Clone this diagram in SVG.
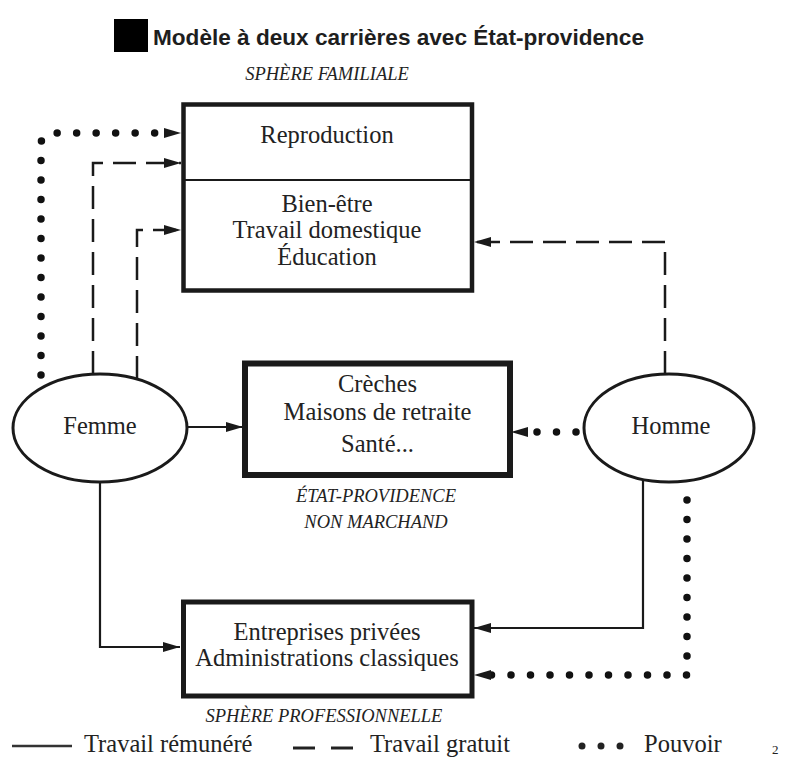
<svg xmlns="http://www.w3.org/2000/svg" width="789" height="760" viewBox="0 0 789 760">
<style>
.t{font-family:"Liberation Serif","Times New Roman",serif;font-size:24.5px;fill:#222;text-anchor:middle}
.lab{font-family:"Liberation Serif","Times New Roman",serif;font-size:18.5px;font-style:italic;fill:#222;text-anchor:middle}
.leg{font-family:"Liberation Serif","Times New Roman",serif;font-size:24.5px;fill:#222}
.box{fill:#fff;stroke:#1a1a1a}
.ell{fill:#fff;stroke:#1a1a1a;stroke-width:3}
.solid{fill:none;stroke:#1a1a1a;stroke-width:2.2}
.dash{fill:none;stroke:#1a1a1a;stroke-width:2.5;stroke-dasharray:23 10}
.dot{fill:none;stroke:#111;stroke-width:7.5;stroke-linecap:round;stroke-dasharray:0 19.5}
</style>
<defs>
<marker id="ah" markerUnits="userSpaceOnUse" markerWidth="18" markerHeight="12" refX="17" refY="6" orient="auto">
<path d="M0,1 L17,6 L0,11 Z" fill="#1a1a1a"/>
</marker>
</defs>
<rect width="789" height="760" fill="#fff"/>
<g id="title">
<rect x="114" y="19" width="34" height="33" fill="#000"/>
<text x="153" y="45" style="font-family:'Liberation Sans',Arial,sans-serif;font-size:22.6px;font-weight:bold;fill:#1e1e1e">Modèle à deux carrières avec État-providence</text>
</g>
<g id="labels">
<text class="lab" x="327" y="80">SPHÈRE FAMILIALE</text>
<text class="lab" x="376" y="502">ÉTAT-PROVIDENCE</text>
<text class="lab" x="376" y="528">NON MARCHAND</text>
<text class="lab" x="324" y="722">SPHÈRE PROFESSIONNELLE</text>
</g>
<g id="connectors">
<path class="dot" d="M41,375 L41,145 Q41,133 53,133 L165,133"/>
<path d="M160,133 L181,133" fill="none" stroke="none" marker-end="url(#ah)"/>
<path class="dash" d="M93,374 V163 H181" marker-end="url(#ah)"/>
<path class="dash" d="M137,379 V230 H181" marker-end="url(#ah)"/>
<path class="dash" d="M665,374 V242 H474" marker-end="url(#ah)"/>
<path class="solid" d="M187,427 H243" marker-end="url(#ah)"/>
<path class="dot" d="M576,432 H520"/>
<path d="M520,432 H511" fill="none" stroke="none" marker-end="url(#ah)"/>
<path class="solid" d="M100,482 V647 H180" marker-end="url(#ah)"/>
<path class="solid" d="M643,479 V628 H474" marker-end="url(#ah)"/>
<path class="dot" d="M687,500 V675 H485"/>
<path d="M485,675 H474" fill="none" stroke="none" marker-end="url(#ah)"/>
</g>
<g id="sphere-familiale">
<rect class="box" x="183.5" y="104.5" width="288.5" height="186" stroke-width="4.5"/>
<line x1="183.5" y1="180" x2="472" y2="180" stroke="#1a1a1a" stroke-width="2"/>
<text class="t" x="327" y="143">Reproduction</text>
<text class="t" x="327" y="212">Bien-être</text>
<text class="t" x="327" y="238">Travail domestique</text>
<text class="t" x="327" y="265">Éducation</text>
</g>
<g id="etat-providence">
<rect class="box" x="245" y="363.5" width="265" height="111.5" stroke-width="6"/>
<text class="t" x="377.5" y="392">Crèches</text>
<text class="t" x="377.5" y="420">Maisons de retraite</text>
<text class="t" x="377.5" y="452">Santé...</text>
</g>
<g id="sphere-professionnelle">
<rect class="box" x="183.5" y="602" width="288.5" height="94" stroke-width="5"/>
<text class="t" x="327" y="640">Entreprises privées</text>
<text class="t" x="327" y="666">Administrations classiques</text>
</g>
<g id="femme">
<ellipse class="ell" cx="100" cy="428" rx="87" ry="54"/>
<text class="t" x="100" y="434">Femme</text>
</g>
<g id="homme">
<ellipse class="ell" cx="669" cy="428" rx="85" ry="54"/>
<text class="t" x="671" y="434">Homme</text>
</g>
<g id="legend">
<line x1="12" y1="746" x2="72" y2="746" stroke="#333" stroke-width="2.5"/>
<text class="leg" x="84" y="752">Travail rémunéré</text>
<line x1="293" y1="748" x2="315" y2="748" stroke="#222" stroke-width="3"/>
<line x1="331" y1="748" x2="353" y2="748" stroke="#222" stroke-width="3"/>
<text class="leg" x="370" y="752">Travail gratuit</text>
<circle cx="582" cy="746" r="3.5" fill="#222"/>
<circle cx="601" cy="746" r="3.5" fill="#222"/>
<circle cx="620" cy="746" r="3.5" fill="#222"/>
<text class="leg" x="644" y="752">Pouvoir</text>
<text x="772" y="754" style="font-family:'Liberation Serif',serif;font-size:13px;fill:#222">2</text>
</g>
</svg>
